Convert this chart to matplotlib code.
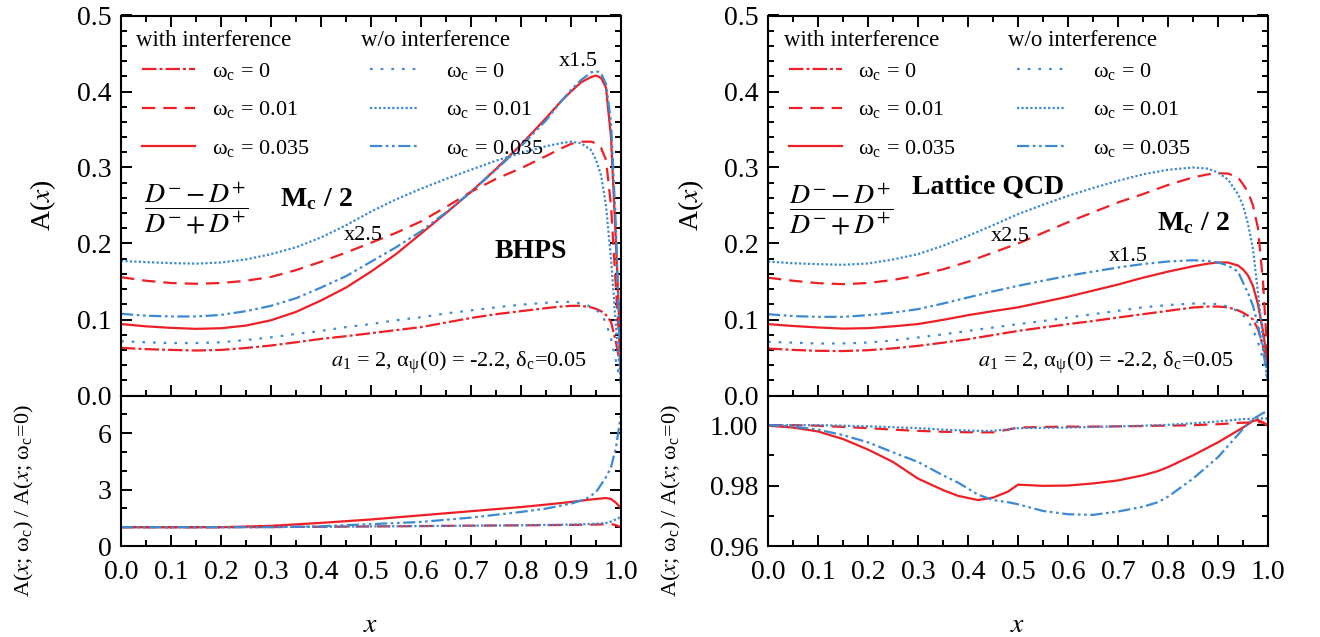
import numpy as np
import matplotlib
matplotlib.use("Agg")
import matplotlib.pyplot as plt
from matplotlib.lines import Line2D
from matplotlib.ticker import MultipleLocator, FormatStrFormatter

plt.rcParams.update({
    "font.family": ["Liberation Serif", "DejaVu Serif"],
    "mathtext.fontset": "stix",
    "font.size": 16,
    "axes.linewidth": 1.5,
})

# ---------------- data ----------------
x_top = [0, 0.05, 0.1, 0.15, 0.2, 0.25, 0.3, 0.35, 0.4, 0.45, 0.5, 0.55, 0.6, 0.65,
         0.7, 0.75, 0.8, 0.85, 0.88, 0.9, 0.92, 0.94, 0.95, 0.96, 0.97, 0.98, 0.99, 1.0]

# BHPS, M_c/2 -- asymmetry A(x)
bhps_with_w0 = [0.0627, 0.061, 0.060, 0.0592, 0.060, 0.0625, 0.0658, 0.070, 0.0745, 0.078,
                0.082, 0.086, 0.090, 0.096, 0.102, 0.107, 0.111, 0.115, 0.117, 0.118,
                0.118, 0.116, 0.114, 0.111, 0.106, 0.097, 0.070, 0.035]
bhps_with_w001 = [0.1557, 0.151, 0.148, 0.147, 0.148, 0.151, 0.156, 0.165, 0.176, 0.188,
                  0.201, 0.214, 0.229, 0.248, 0.268, 0.285, 0.299, 0.315, 0.325, 0.331,
                  0.334, 0.334, 0.332, 0.326, 0.31, 0.25, 0.14, 0.035]
bhps_with_w035 = [0.094, 0.091, 0.089, 0.0877, 0.0885, 0.092, 0.099, 0.110, 0.125, 0.142,
                  0.163, 0.186, 0.213, 0.240, 0.268, 0.298, 0.330, 0.365, 0.387, 0.400,
                  0.412, 0.419, 0.421, 0.418, 0.405, 0.34, 0.20, 0.04]
bhps_wo_w0 = [0.0715, 0.070, 0.069, 0.069, 0.070, 0.073, 0.0765, 0.081, 0.085, 0.090,
              0.094, 0.099, 0.103, 0.108, 0.112, 0.116, 0.1195, 0.122, 0.1235, 0.123,
              0.121, 0.117, 0.113, 0.107, 0.096, 0.075, 0.045, 0.015]
bhps_wo_w001 = [0.177, 0.1755, 0.1742, 0.1735, 0.175, 0.179, 0.186, 0.195, 0.208, 0.224,
                0.242, 0.258, 0.272, 0.285, 0.297, 0.309, 0.319, 0.328, 0.332, 0.334,
                0.332, 0.323, 0.31, 0.29, 0.25, 0.18, 0.09, 0.015]
bhps_wo_w035 = [0.1075, 0.105, 0.104, 0.104, 0.106, 0.111, 0.118, 0.128, 0.142, 0.157,
                0.176, 0.195, 0.216, 0.241, 0.268, 0.297, 0.328, 0.362, 0.387, 0.402,
                0.415, 0.425, 0.427, 0.424, 0.41, 0.36, 0.22, 0.015]

# Lattice QCD, M_c/2 -- asymmetry A(x)
lqcd_with_w0 = [0.0618, 0.060, 0.0588, 0.0585, 0.0596, 0.062, 0.0653, 0.0695, 0.074, 0.0795,
                0.085, 0.0895, 0.0939, 0.098, 0.1026, 0.107, 0.1114, 0.1158, 0.117, 0.117,
                0.116, 0.112, 0.109, 0.105, 0.100, 0.087, 0.065, 0.039]
lqcd_with_w001 = [0.155, 0.151, 0.1478, 0.1465, 0.148, 0.152, 0.158, 0.166, 0.176, 0.188,
                  0.200, 0.214, 0.228, 0.241, 0.254, 0.265, 0.277, 0.287, 0.291, 0.2925,
                  0.292, 0.287, 0.278, 0.268, 0.25, 0.22, 0.15, 0.04]
lqcd_with_w035 = [0.0939, 0.0915, 0.0895, 0.088, 0.0886, 0.091, 0.094, 0.0995, 0.1057, 0.111,
                  0.116, 0.123, 0.130, 0.138, 0.146, 0.155, 0.163, 0.170, 0.1735, 0.175,
                  0.175, 0.171, 0.166, 0.158, 0.144, 0.12, 0.085, 0.039]
lqcd_wo_w0 = [0.0706, 0.0695, 0.0684, 0.0685, 0.0697, 0.0725, 0.0763, 0.0805, 0.085, 0.0895,
              0.0939, 0.098, 0.1026, 0.107, 0.1114, 0.116, 0.119, 0.121, 0.121, 0.120,
              0.117, 0.111, 0.106, 0.098, 0.087, 0.070, 0.048, 0.017]
lqcd_wo_w001 = [0.1763, 0.174, 0.1728, 0.172, 0.1737, 0.179, 0.186, 0.197, 0.210, 0.224,
                0.2386, 0.251, 0.2627, 0.273, 0.2825, 0.291, 0.297, 0.300, 0.2985, 0.2934,
                0.284, 0.265, 0.25, 0.226, 0.1925, 0.135, 0.074, 0.017]
lqcd_wo_w035 = [0.107, 0.1045, 0.1035, 0.1035, 0.1057, 0.109, 0.1136, 0.121, 0.129, 0.137,
                0.1443, 0.151, 0.1575, 0.163, 0.1684, 0.173, 0.1763, 0.178, 0.177, 0.175,
                0.171, 0.163, 0.1487, 0.135, 0.118, 0.092, 0.061, 0.017]

# ratios A(x; w_c) / A(x; w_c = 0), BHPS
x_ratio_bhps = [0, 0.1, 0.2, 0.3, 0.4, 0.5, 0.6, 0.7, 0.8, 0.85, 0.9, 0.93, 0.95, 0.97,
                0.98, 0.99, 1.0]
bhps_ratio_with_w001 = [1.0, 1.0, 1.0, 1.01, 1.02, 1.04, 1.06, 1.08, 1.1, 1.11, 1.12, 1.13,
                        1.14, 1.16, 1.18, 1.1, 1.0]
bhps_ratio_with_w035 = [1.0, 1.0, 1.0, 1.07, 1.23, 1.41, 1.63, 1.85, 2.07, 2.2, 2.34, 2.44,
                        2.5, 2.55, 2.5, 2.3, 2.0]
bhps_ratio_wo_w001 = [1.0, 1.0, 1.0, 1.01, 1.02, 1.04, 1.06, 1.08, 1.1, 1.12, 1.14, 1.16,
                      1.18, 1.22, 1.3, 1.42, 1.55]
bhps_ratio_wo_w035 = [1.0, 1.0, 1.0, 1.0, 1.05, 1.16, 1.28, 1.51, 1.81, 1.99, 2.25, 2.5,
                      2.86, 3.66, 4.18, 5.24, 7.0]

# ratios A(x; w_c) / A(x; w_c = 0), Lattice QCD
x_ratio_lqcd = [0, 0.05, 0.1, 0.15, 0.2, 0.25, 0.3, 0.35, 0.38, 0.42, 0.45, 0.48, 0.5, 0.55,
                0.6, 0.65, 0.7, 0.75, 0.78, 0.8, 0.85, 0.9, 0.95, 0.97, 0.98, 0.99, 1.0]
lqcd_ratio_with_w001 = [1.0, 1.0, 0.9998, 0.9994, 0.999, 0.9985, 0.9981, 0.9978, 0.9977,
                        0.9976, 0.9976, 0.9985, 0.9992, 0.9994, 0.9995, 0.9995, 0.9996,
                        0.9997, 0.9998, 0.9998, 1.0, 1.0003, 1.0008, 1.0009, 1.001, 1.0008,
                        0.9998]
lqcd_ratio_with_w035 = [0.9998, 0.9992, 0.9979, 0.9954, 0.9919, 0.9878, 0.9823, 0.9785,
                        0.9766, 0.9752, 0.976, 0.978, 0.9803, 0.9799, 0.980, 0.9807, 0.9817,
                        0.9834, 0.9848, 0.9861, 0.990, 0.9943, 0.9992, 1.0014, 1.0017,
                        1.0009, 0.9998]
lqcd_ratio_wo_w001 = [1.0, 1.0, 1.0, 0.9998, 0.9996, 0.9993, 0.999, 0.9985, 0.9983, 0.9981,
                      0.9981, 0.9986, 0.999, 0.9991, 0.9992, 0.9994, 0.9996, 0.9998, 1.0,
                      1.0001, 1.0006, 1.0012, 1.002, 1.0021, 1.0022, 1.0022, 1.0022]
lqcd_ratio_wo_w035 = [1.0, 0.9995, 0.9985, 0.9967, 0.9943, 0.991, 0.9878, 0.9834, 0.981,
                      0.977, 0.9752, 0.9745, 0.9738, 0.9716, 0.9705, 0.9703, 0.9714, 0.973,
                      0.9745, 0.9763, 0.9823, 0.9894, 0.9987, 1.002, 1.003, 1.004, 1.0044]

legend_labels = ["ω$_\\mathregular{c}$ = 0", "ω$_\\mathregular{c}$ = 0.01",
                 "ω$_\\mathregular{c}$ = 0.035"]

# ---------------- styles ----------------
RED = "#ee1f25"
BLUE = "#3c8ad4"
LW = 1.6
STYLE = {
    "with_w0": dict(color=RED, lw=LW, ls=(0, (6.5, 1.4, 1.3, 1.4))),
    "with_w001": dict(color=RED, lw=LW, ls=(0, (6.0, 3.6))),
    "with_w035": dict(color=RED, lw=LW, ls="-"),
    "wo_w0": dict(color=BLUE, lw=LW, ls=(0, (1.2, 3.6))),
    "wo_w001": dict(color=BLUE, lw=LW, ls=(0, (1.0, 1.0))),
    "wo_w035": dict(color=BLUE, lw=LW, ls=(0, (5.5, 1.6, 1.2, 1.6, 1.2, 1.6))),
}

fig = plt.figure(figsize=(13.2, 6.37), dpi=100)
W, H = 1320.0, 637.0
panels_x = [121.0, 768.0]
ax_w = 500.0
top_y0, top_y1 = 15.5, 395.5
bot_y1 = 546.0


def style_axes(ax, top_ticks=True):
    ax.tick_params(which="both", direction="in", top=top_ticks, right=True,
                   labelsize=20, width=1.4, pad=7)
    ax.tick_params(axis="x", which="both", pad=10)
    ax.tick_params(which="major", length=8)
    ax.tick_params(which="minor", length=4)
    for s in ax.spines.values():
        s.set_linewidth(1.5)


def draw(px, top_series, x_ratio, ratio_series, ratio_ylim, ratio_major, ratio_minor,
         ratio_fmt, texts):
    ax = fig.add_axes([px / W, 1 - top_y1 / H, ax_w / W, (top_y1 - top_y0) / H])
    axb = fig.add_axes([px / W, 1 - bot_y1 / H, ax_w / W, (bot_y1 - top_y1) / H])

    for key, ys in top_series.items():
        ax.plot(x_top, ys, **STYLE[key])
    for key, ys in ratio_series.items():
        axb.plot(x_ratio, ys, **STYLE[key])

    ax.set_xlim(0, 1)
    ax.set_ylim(0, 0.5)
    ax.xaxis.set_major_locator(MultipleLocator(0.1))
    ax.xaxis.set_minor_locator(MultipleLocator(0.05))
    ax.yaxis.set_major_locator(MultipleLocator(0.1))
    ax.yaxis.set_minor_locator(MultipleLocator(0.02))
    ax.yaxis.set_major_formatter(FormatStrFormatter("%.1f"))
    style_axes(ax)
    ax.tick_params(labelbottom=False)
    ax.set_ylabel("A($x$)", fontsize=20)
    ax.yaxis.set_label_coords(-0.125, 0.5)

    axb.set_xlim(0, 1)
    axb.set_ylim(*ratio_ylim)
    axb.xaxis.set_major_locator(MultipleLocator(0.1))
    axb.xaxis.set_minor_locator(MultipleLocator(0.05))
    axb.xaxis.set_major_formatter(FormatStrFormatter("%.1f"))
    axb.yaxis.set_major_locator(MultipleLocator(ratio_major))
    axb.yaxis.set_minor_locator(MultipleLocator(ratio_minor))
    axb.yaxis.set_major_formatter(FormatStrFormatter(ratio_fmt))
    style_axes(axb, top_ticks=False)
    axb.set_xlabel("$x$", fontsize=20, labelpad=20)
    axb.set_ylabel("A($x$; ω$_\\mathregular{c}$) / A($x$; ω$_\\mathregular{c}$=0)",
                   fontsize=16)
    axb.yaxis.set_label_coords(-0.17, 0.3)

    # legends: with / without interference
    h_red = [Line2D([], [], **STYLE[k]) for k in ("with_w0", "with_w001", "with_w035")]
    h_blue = [Line2D([], [], **STYLE[k]) for k in ("wo_w0", "wo_w001", "wo_w035")]
    leg_kw = dict(loc="upper left", frameon=False, fontsize=16, labelspacing=0.78,
                  borderpad=0, borderaxespad=0)
    leg1 = ax.legend(h_red, legend_labels, bbox_to_anchor=(0.041, 0.88),
                     handlelength=2.4, handletextpad=0.75, **leg_kw)
    ax.add_artist(leg1)
    ax.legend(h_blue, legend_labels, bbox_to_anchor=(0.497, 0.88),
              handlelength=2.2, handletextpad=1.25, **leg_kw)
    ax.text(0.031, 0.934, "with interference", transform=ax.transAxes, fontsize=16.5,
            va="center", ha="left")
    ax.text(0.48, 0.934, "w/o interference", transform=ax.transAxes, fontsize=16.5,
            va="center", ha="left")

    ax.text(texts["frac"][0], texts["frac"][1],
            r"$\dfrac{D^{-}-D^{+}}{D^{-}+D^{+}}$", fontsize=20, ha="center", va="center")
    for s, (tx, ty) in texts["bold"]:
        ax.text(tx, ty, s, fontsize=20, fontweight="bold", ha="center", va="center")
    for s, (tx, ty) in texts["plain"]:
        ax.text(tx, ty, s, fontsize=16, ha="center", va="center")
    ax.text(0.932, 0.043,
            "$a_\\mathregular{1}$ = 2, α$_\\mathregular{ψ}$(0) = -2.2, δ$_\\mathregular{c}$=0.05",
            fontsize=16, ha="right", va="center")
    return ax, axb


draw(panels_x[0],
     {"with_w0": bhps_with_w0, "with_w001": bhps_with_w001, "with_w035": bhps_with_w035,
      "wo_w0": bhps_wo_w0, "wo_w001": bhps_wo_w001, "wo_w035": bhps_wo_w035},
     x_ratio_bhps,
     {"with_w001": bhps_ratio_with_w001, "wo_w001": bhps_ratio_wo_w001,
      "with_w035": bhps_ratio_with_w035, "wo_w035": bhps_ratio_wo_w035},
     (0, 8), 3, 1, "%d",
     {"frac": (0.15, 0.246),
      "bold": [("M$_\\mathregular{c}$ / 2", (0.39, 0.258)), ("BHPS", (0.82, 0.19))],
      "plain": [("x2.5", (0.484, 0.211)), ("x1.5", (0.914, 0.44))]})

draw(panels_x[1],
     {"with_w0": lqcd_with_w0, "with_w001": lqcd_with_w001, "with_w035": lqcd_with_w035,
      "wo_w0": lqcd_wo_w0, "wo_w001": lqcd_wo_w001, "wo_w035": lqcd_wo_w035},
     x_ratio_lqcd,
     {"with_w001": lqcd_ratio_with_w001, "wo_w001": lqcd_ratio_wo_w001,
      "with_w035": lqcd_ratio_with_w035, "wo_w035": lqcd_ratio_wo_w035},
     (0.96, 1.0098), 0.02, 0.01, "%.2f",
     {"frac": (0.146, 0.245),
      "bold": [("Lattice QCD", (0.44, 0.274)), ("M$_\\mathregular{c}$ / 2", (0.85, 0.226))],
      "plain": [("x2.5", (0.484, 0.209)), ("x1.5", (0.72, 0.183))]})

fig.savefig("out.png", dpi=100)
